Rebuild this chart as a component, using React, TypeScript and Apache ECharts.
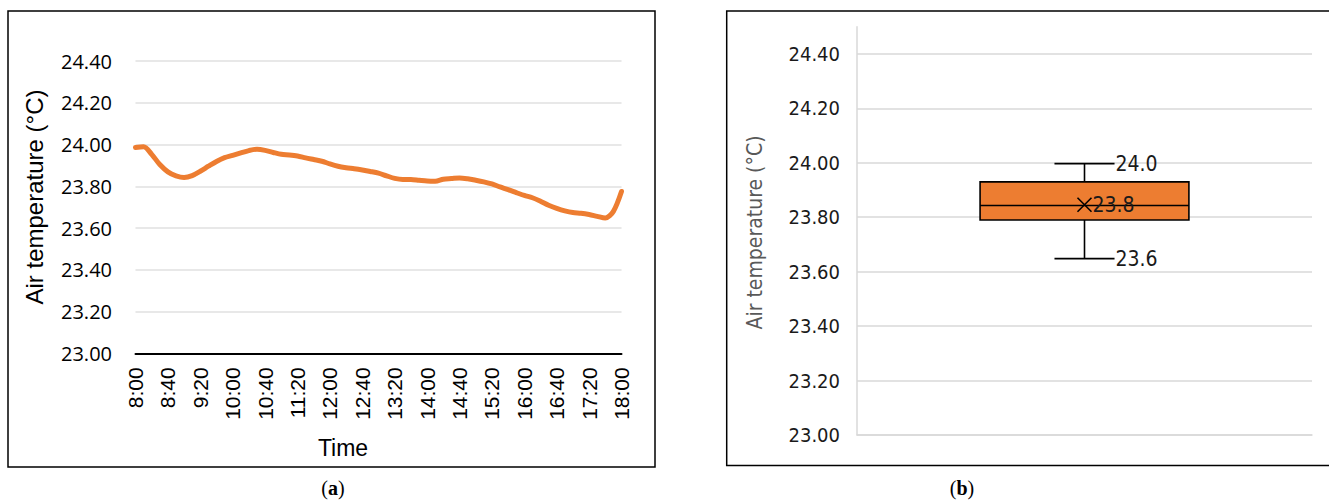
import React, { useEffect, useRef } from "react";
import * as echarts from "echarts";

// ---------- Data (a): air temperature over the day ----------
const timeLabels = [
  "8:00", "8:10", "8:20", "8:30", "8:40", "8:50",
  "9:00", "9:10", "9:20", "9:30", "9:40", "9:50",
  "10:00", "10:10", "10:20", "10:30", "10:40", "10:50",
  "11:00", "11:10", "11:20", "11:30", "11:40", "11:50",
  "12:00", "12:10", "12:20", "12:30", "12:40", "12:50",
  "13:00", "13:10", "13:20", "13:30", "13:40", "13:50",
  "14:00", "14:10", "14:20", "14:30", "14:40", "14:50",
  "15:00", "15:10", "15:20", "15:30", "15:40", "15:50",
  "16:00", "16:10", "16:20", "16:30", "16:40", "16:50",
  "17:00", "17:10", "17:20", "17:30", "17:40", "17:50",
  "18:00",
];

const airTemperature = [
  23.986, 23.989, 23.953, 23.904, 23.869, 23.850,
  23.842, 23.851, 23.872, 23.896, 23.919, 23.937,
  23.948, 23.960, 23.971, 23.977, 23.972, 23.962,
  23.953, 23.950, 23.945, 23.936, 23.928, 23.920,
  23.907, 23.896, 23.889, 23.884, 23.878, 23.871,
  23.863, 23.850, 23.838, 23.833, 23.833, 23.829,
  23.825, 23.824, 23.834, 23.837, 23.840, 23.836,
  23.829, 23.821, 23.811, 23.797, 23.784, 23.770,
  23.756, 23.745, 23.728, 23.709, 23.694, 23.682,
  23.674, 23.671, 23.665, 23.656, 23.648, 23.680,
  23.775,
];

// ---------- Data (b): box plot ----------
const boxCategories = ["Air temperature"];
// [min, Q1, median, Q3, max]
const boxValues = [[23.648, 23.79, 23.843, 23.93, 23.997]];
const boxMeans = [23.846];

// ---------- Axis settings ----------
const yMin = 23.0;
const yMaxA = 24.4;
const yMaxB = 24.5;
const yStep = 0.2;

const ORANGE = "#ED7D31";
const GRID_GREY = "#D9D9D9";

export default function App() {
  const ref = useRef<HTMLDivElement>(null);

  useEffect(() => {
    if (!ref.current) return;
    const chart = echarts.init(ref.current, null, { renderer: "svg" });

    const boxData = boxValues.map((v, i) => [i, ...v, boxMeans[i]]);

    const panelLabel = (x: number, letter: string) => ({
      type: "text",
      x,
      y: 488,
      style: {
        text: "{n|(}{b|" + letter + "}{n|)}",
        fontFamily: "Liberation Serif",
        fontSize: 20,
        fill: "#000",
        textAlign: "center",
        textVerticalAlign: "middle",
        rich: {
          n: { fontFamily: "Liberation Serif", fontSize: 20, fill: "#000" },
          b: { fontFamily: "Liberation Serif", fontSize: 20, fontWeight: "bold", fill: "#000" },
        },
      },
    });

    const option: any = {
      animation: false,
      backgroundColor: "#ffffff",
      grid: [
        { left: 135.5, top: 61, width: 486, height: 292.3, containLabel: false },
        { left: 857, top: 26.7, width: 455, height: 408.3, containLabel: false },
      ],
      xAxis: [
        {
          gridIndex: 0,
          type: "category",
          data: timeLabels,
          boundaryGap: false,
          axisLine: { show: true, lineStyle: { color: "#000", width: 2 } },
          axisTick: { show: false },
          axisLabel: {
            interval: 3,
            rotate: 90,
            margin: 14,
            color: "#000",
            fontFamily: "Liberation Sans",
            fontSize: 21,
          },
          splitLine: { show: false },
        },
        {
          gridIndex: 1,
          type: "category",
          data: boxCategories,
          boundaryGap: true,
          axisLine: { show: true, lineStyle: { color: GRID_GREY, width: 1.5 } },
          axisTick: { show: false },
          axisLabel: { show: false },
          splitLine: { show: false },
        },
      ],
      yAxis: [
        {
          gridIndex: 0,
          type: "value",
          min: yMin,
          max: yMaxA,
          interval: yStep,
          axisLine: { show: false },
          axisTick: { show: false },
          axisLabel: {
            margin: 23.5,
            color: "#000",
            fontFamily: "Open Sans",
            fontSize: 20,
            formatter: (v: number) => v.toFixed(2),
          },
          splitLine: { show: true, lineStyle: { color: "#E0E0E0", width: 1.5 } },
        },
        {
          gridIndex: 1,
          type: "value",
          min: yMin,
          max: yMaxB,
          interval: yStep,
          axisLine: { show: true, lineStyle: { color: GRID_GREY, width: 1.5 } },
          axisTick: { show: false },
          axisLabel: {
            margin: 17,
            color: "#1a1a1a",
            fontFamily: "DejaVu Sans Condensed, DejaVu Sans",
            fontSize: 20,
            showMaxLabel: false,
            formatter: (v: number) => v.toFixed(2),
          },
          splitLine: { show: true, showMaxLine: false, lineStyle: { color: GRID_GREY, width: 1.5 } },
        },
      ],
      series: [
        {
          type: "line",
          xAxisIndex: 0,
          yAxisIndex: 0,
          data: airTemperature,
          showSymbol: false,
          symbol: "none",
          smooth: 0.3,
          lineStyle: { color: ORANGE, width: 5, cap: "round", join: "round" },
          z: 3,
        },
        {
          type: "custom",
          xAxisIndex: 1,
          yAxisIndex: 1,
          clip: false,
          encode: { x: 0, y: [1, 5] },
          data: boxData,
          z: 3,
          renderItem: (params: any, api: any) => {
            const x = api.value(0);
            const lo = api.value(1);
            const q1 = api.value(2);
            const med = api.value(3);
            const q3 = api.value(4);
            const hi = api.value(5);
            const mean = api.value(6);
            const band = api.size([1, 0])[0];
            const bw = band * 0.459;
            const cw = band * 0.132;
            const pLo = api.coord([x, lo]);
            const pQ1 = api.coord([x, q1]);
            const pMed = api.coord([x, med]);
            const pQ3 = api.coord([x, q3]);
            const pHi = api.coord([x, hi]);
            const pMean = api.coord([x, mean]);
            const cx = pMed[0];
            const lineStyle = { stroke: "#000", lineWidth: 1.6 };
            const labelFont = {
              fill: "#1a1a1a",
              fontFamily: "DejaVu Sans Condensed, DejaVu Sans",
              fontSize: 21,
              textAlign: "left",
              textVerticalAlign: "middle",
            };
            const m = 7;
            return {
              type: "group",
              children: [
                { type: "line", shape: { x1: cx, y1: pHi[1], x2: cx, y2: pQ3[1] }, style: lineStyle },
                { type: "line", shape: { x1: cx, y1: pQ1[1], x2: cx, y2: pLo[1] }, style: lineStyle },
                { type: "line", shape: { x1: cx - cw / 2, y1: pHi[1], x2: cx + cw / 2, y2: pHi[1] }, style: lineStyle },
                { type: "line", shape: { x1: cx - cw / 2, y1: pLo[1], x2: cx + cw / 2, y2: pLo[1] }, style: lineStyle },
                {
                  type: "rect",
                  shape: { x: cx - bw / 2, y: pQ3[1], width: bw, height: pQ1[1] - pQ3[1] },
                  style: { fill: ORANGE, stroke: "#000", lineWidth: 1.6 },
                },
                { type: "line", shape: { x1: cx - bw / 2, y1: pMed[1], x2: cx + bw / 2, y2: pMed[1] }, style: lineStyle },
                { type: "line", shape: { x1: cx - m, y1: pMean[1] - m, x2: cx + m, y2: pMean[1] + m }, style: lineStyle },
                { type: "line", shape: { x1: cx - m, y1: pMean[1] + m, x2: cx + m, y2: pMean[1] - m }, style: lineStyle },
                { type: "text", x: cx + cw / 2 + 1, y: pHi[1], style: { ...labelFont, text: hi.toFixed(1) } },
                { type: "text", x: cx + m + 1, y: pMean[1], style: { ...labelFont, text: mean.toFixed(1) } },
                { type: "text", x: cx + cw / 2 + 1, y: pLo[1], style: { ...labelFont, text: lo.toFixed(1) } },
              ],
            };
          },
        },
      ],
      graphic: [
        {
          type: "rect",
          shape: { x: 8, y: 11, width: 647, height: 456 },
          style: { fill: "none", stroke: "#000", lineWidth: 1.5 },
          silent: true,
        },
        {
          type: "rect",
          shape: { x: 726.7, y: 11, width: 640, height: 454.5 },
          style: { fill: "none", stroke: "#000", lineWidth: 1.5 },
          silent: true,
        },
        {
          type: "text",
          x: 34,
          y: 197,
          rotation: Math.PI / 2,
          style: {
            text: "Air temperature (°C)",
            fill: "#000",
            fontFamily: "Liberation Sans",
            fontSize: 24,
            textAlign: "center",
            textVerticalAlign: "middle",
          },
        },
        {
          type: "text",
          x: 343,
          y: 448,
          style: {
            text: "Time",
            fill: "#000",
            fontFamily: "Liberation Sans",
            fontSize: 23,
            textAlign: "center",
            textVerticalAlign: "middle",
          },
        },
        {
          type: "text",
          x: 754.5,
          y: 232.5,
          rotation: Math.PI / 2,
          style: {
            text: "Air temperature (°C)",
            fill: "#595959",
            fontFamily: "DejaVu Sans Condensed, DejaVu Sans",
            fontSize: 21,
            textAlign: "center",
            textVerticalAlign: "middle",
          },
        },
        panelLabel(333, "a"),
        panelLabel(962, "b"),
      ],
    };

    chart.setOption(option);
    return () => chart.dispose();
  }, []);

  return (
    <div
      ref={ref}
      style={{ position: "absolute", left: 0, top: 0, width: 1329, height: 501, background: "#fff" }}
    />
  );
}
